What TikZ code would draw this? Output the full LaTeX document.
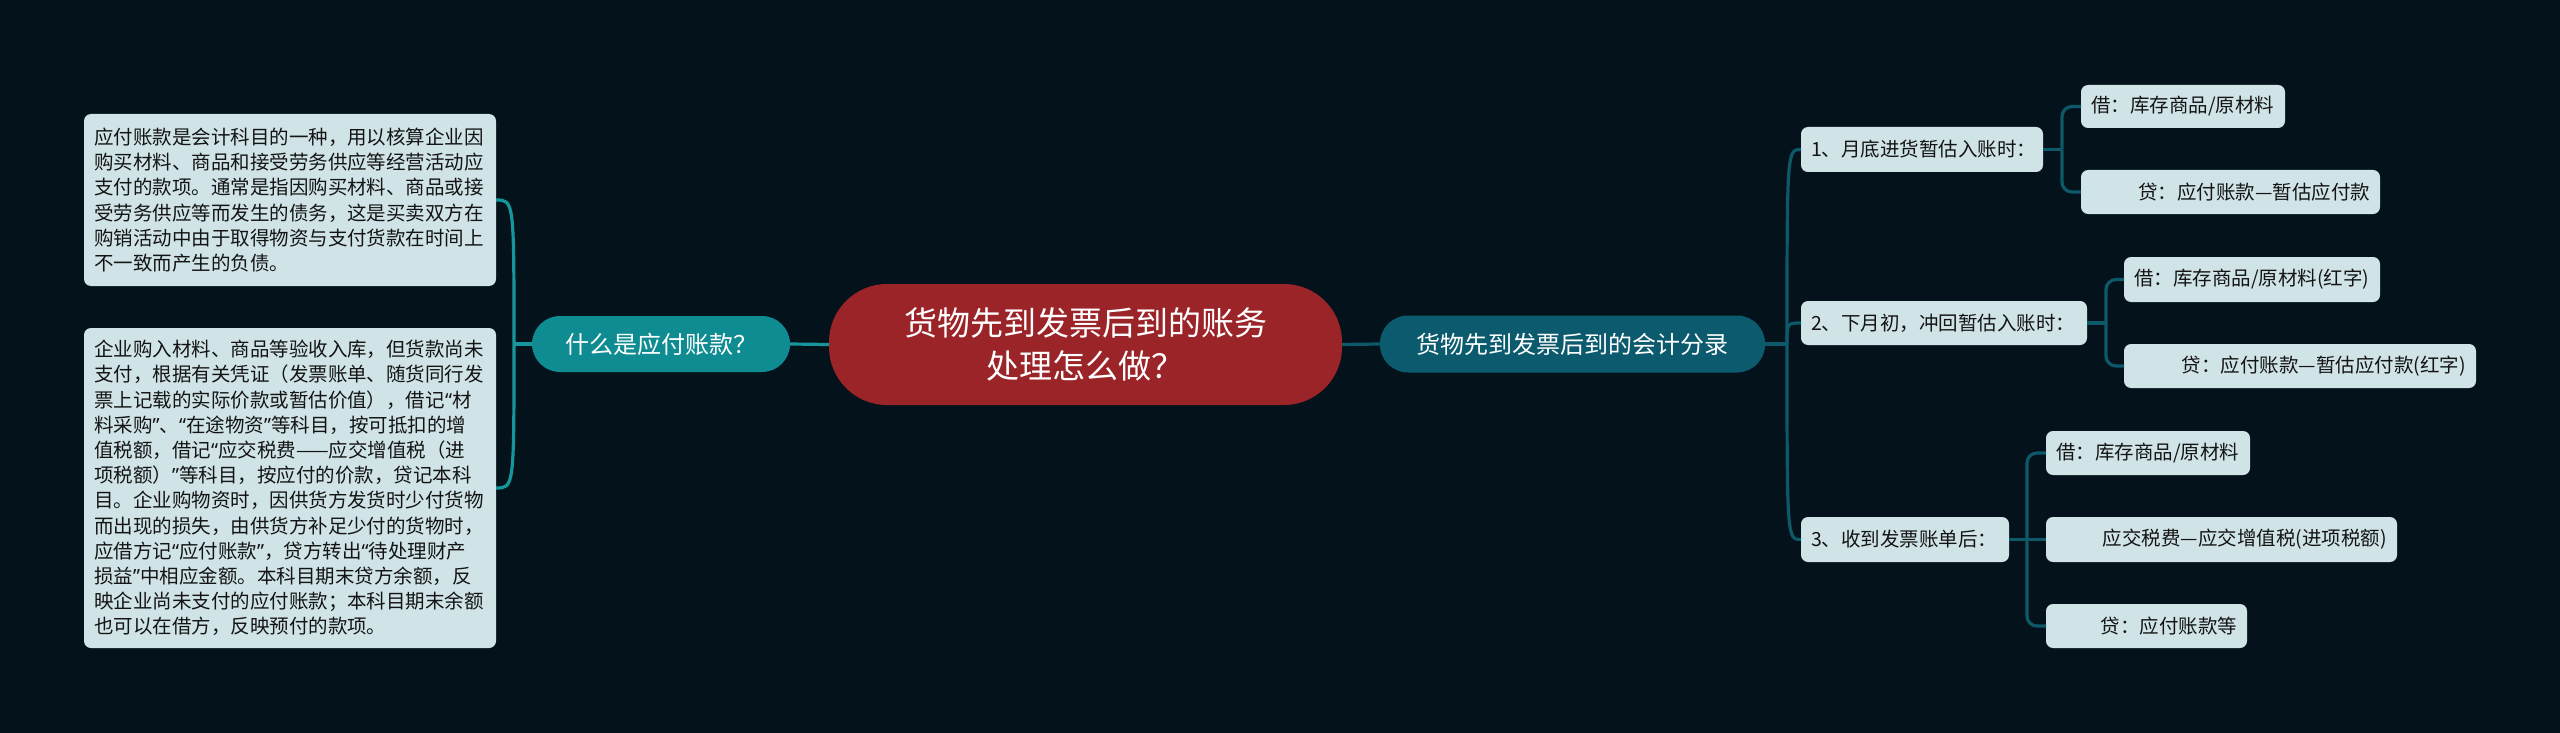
\documentclass[tikz,border=0pt]{standalone}
\usepackage{fontspec}
\setmainfont{Noto Sans CJK SC}
\newfontfamily\myqfont{Noto Sans}
\newcommand\myqo{{\myqfont “}}
\newcommand\myqc{{\myqfont ”}}
\usetikzlibrary{calc}
\definecolor{bg}{RGB}{4,19,27}
\definecolor{rootc}{RGB}{155,36,41}
\definecolor{lqc}{RGB}{15,140,145}
\definecolor{rqc}{RGB}{11,90,110}
\definecolor{boxc}{RGB}{208,228,232}
\definecolor{lline}{RGB}{22,150,155}
\definecolor{rline}{RGB}{13,88,105}
\definecolor{ink}{RGB}{20,20,20}
\begin{document}
\begin{tikzpicture}[x=1pt,y=-1pt,
  rootbox/.style={fill=rootc,text=white,rounded corners=58,inner sep=0,outer sep=0,align=center,font={\fontsize{33}{43}\selectfont}},
  pill/.style={text=white,rounded corners=28,inner sep=0,outer sep=0,font={\fontsize{24}{30}\selectfont}},
  para/.style={fill=boxc,text=ink,rounded corners=7,inner xsep=10,inner ysep=0,outer sep=0,align=left,text width=392,font={\fontsize{19.5}{25.2}\selectfont}},
  leaf/.style={fill=boxc,text=ink,rounded corners=7,inner xsep=10,inner ysep=0,outer sep=0,align=left,font={\fontsize{19.5}{24}\selectfont}},
  rleaf/.style={leaf,align=right},
  lconn/.style={draw=lline,line width=3.2pt},
  rconn/.style={draw=rline,line width=3.2pt},
]
\fill[bg] (0,0) rectangle (2560,733);
\useasboundingbox (0,0) rectangle (2560,733);

% root and first level
\node[rootbox,minimum width=513,minimum height=121] (root) at (1085.5,344.5) {货物先到发票后到的账务\\处理怎么做？};
\node[pill,fill=lqc,minimum width=258,minimum height=56] (lq) at (661,344) {什么是应付账款？};
\node[pill,fill=rqc,minimum width=385,minimum height=57] (rq) at (1572.5,344) {货物先到发票后到的会计分录};

% left paragraphs
\node[para,minimum height=172] (p1) at (290,200) {应付账款是会计科目的一种，用以核算企业因\\购买材料、商品和接受劳务供应等经营活动应\\支付的款项。通常是指因购买材料、商品或接\\受劳务供应等而发生的债务，这是买卖双方在\\购销活动中由于取得物资与支付货款在时间上\\不一致而产生的负债。};
\node[para,minimum height=320] (p2) at (290,488) {企业购入材料、商品等验收入库，但货款尚未\\支付，根据有关凭证（发票账单、随货同行发\\票上记载的实际价款或暂估价值），借记\myqo 材\\料采购\myqc 、\myqo 在途物资\myqc 等科目，按可抵扣的增\\值税额，借记\myqo 应交税费——应交增值税（进\\项税额）\myqc 等科目，按应付的价款，贷记本科\\目。企业购物资时，因供货方发货时少付货物\\而出现的损失，由供货方补足少付的货物时，\\应借方记\myqo 应付账款\myqc ，贷方转出\myqo 待处理财产\\损益\myqc 中相应金额。本科目期末贷方余额，反\\映企业尚未支付的应付账款；本科目期末余额\\也可以在借方，反映预付的款项。};

% right second level
\node[leaf,text width=222,minimum height=45] (a) at (1922,149.5) {1、月底进货暂估入账时：};
\node[leaf,text width=266,minimum height=44] (b) at (1944,323) {2、下月初，冲回暂估入账时：};
\node[leaf,text width=188,minimum height=45] (c) at (1905,539.5) {3、收到发票账单后：};

% right third level
\node[leaf,text width=184,minimum height=43] (a1) at (2183,106.5) {借：库存商品/原材料};
\node[rleaf,text width=279,minimum height=44] (a2) at (2230.5,192) {贷：应付账款—暂估应付款};
\node[leaf,text width=236,minimum height=45] (b1) at (2252,279.5) {借：库存商品/原材料(红字)};
\node[rleaf,text width=332,minimum height=44] (b2) at (2300,366) {贷：应付账款—暂估应付款(红字)};
\node[leaf,text width=184,minimum height=44] (c1) at (2148,453) {借：库存商品/原材料};
\node[rleaf,text width=331,minimum height=45] (c2) at (2221.5,539.5) {应交税费—应交增值税(进项税额)};
\node[rleaf,text width=181,minimum height=44] (c3) at (2146.5,626) {贷：应付账款等};

% connectors: root to first level
\draw[lconn] (root.west) -- (lq.east);
\draw[rconn] (root.east) -- (rq.west);

% left branch
\coordinate (lj) at ([xshift=-18]lq.west);
\draw[lconn] (lq.west) -- (lj);
\draw[lconn] (lj) .. controls (lj |- p1.east) .. (p1.east);
\draw[lconn] (lj) .. controls (lj |- p2.east) .. (p2.east);

% right branch
\coordinate (rj) at ([xshift=22]rq.east);
\draw[rconn] (rq.east) -- (rj);
\draw[rconn] (rj) .. controls (rj |- a.west) .. (a.west);
\draw[rconn] (rj) .. controls (rj |- b.west) .. (b.west);
\draw[rconn] (rj) .. controls (rj |- c.west) .. (c.west);

% brackets
\coordinate (ja) at ([xshift=19]a.east);
\coordinate (jb) at ([xshift=19]b.east);
\coordinate (jc) at ([xshift=18]c.east);
\draw[rconn] (a.east) -- (ja);
\draw[rconn,rounded corners=10] (ja) |- (a1.west);
\draw[rconn,rounded corners=10] (ja) |- (a2.west);
\draw[rconn] (b.east) -- (jb);
\draw[rconn,rounded corners=10] (jb) |- (b1.west);
\draw[rconn,rounded corners=10] (jb) |- (b2.west);
\draw[rconn] (c.east) -- (jc);
\draw[rconn,rounded corners=10] (jc) |- (c1.west);
\draw[rconn] (jc) -- (c2.west);
\draw[rconn,rounded corners=10] (jc) |- (c3.west);
\end{tikzpicture}
\end{document}
